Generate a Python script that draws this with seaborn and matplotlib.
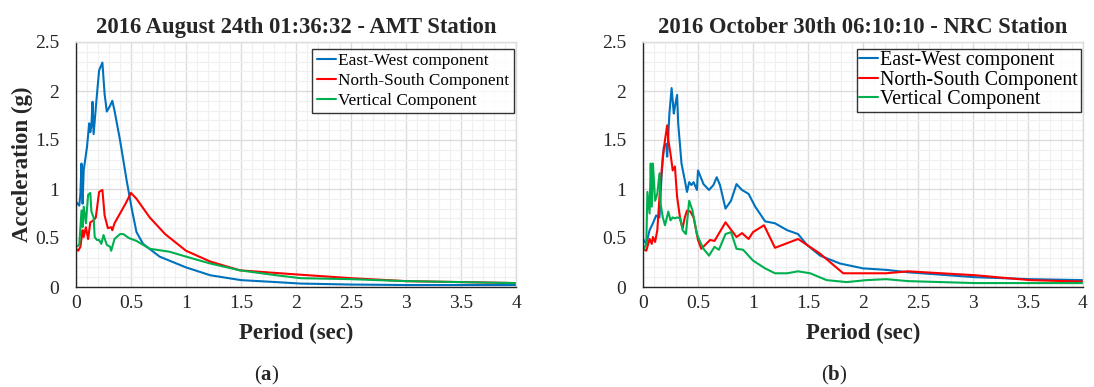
import numpy as np
import pandas as pd
import matplotlib
matplotlib.use("Agg")
import matplotlib.pyplot as plt
import seaborn as sns
from matplotlib.ticker import MultipleLocator

# ---------------- data ----------------
series_names = ["East-West component", "North-South Component", "Vertical Component"]
titles = ["2016 August 24th 01:36:32 - AMT Station", "2016 October 30th 06:10:10 - NRC Station"]
panel_labels = ["a", "b"]
x_ticks = [0, 0.5, 1, 1.5, 2, 2.5, 3, 3.5, 4]
x_tick_labels = ["0", "0.5", "1", "1.5", "2", "2.5", "3", "3.5", "4"]
y_ticks = [0, 0.5, 1, 1.5, 2, 2.5]
y_tick_labels = ["0", "0.5", "1", "1.5", "2", "2.5"]

# Panel (a) AMT
a_ew_x = [0.0, 0.03, 0.04, 0.05, 0.06, 0.07, 0.10, 0.12, 0.13, 0.14, 0.15, 0.16, 0.19, 0.21, 0.24,
          0.26, 0.28, 0.31, 0.33, 0.35, 0.40, 0.46, 0.51, 0.55, 0.61, 0.76, 1.0, 1.22, 1.5, 1.82,
          2.04, 2.5, 3.0, 3.5, 4.0]
a_ew_y = [0.87, 0.83, 0.95, 1.26, 0.85, 1.19, 1.43, 1.67, 1.58, 1.65, 1.89, 1.56, 1.96, 2.21, 2.29,
          1.97, 1.79, 1.85, 1.90, 1.80, 1.50, 1.09, 0.78, 0.56, 0.44, 0.31, 0.20, 0.12, 0.07, 0.05,
          0.035, 0.025, 0.02, 0.02, 0.02]
a_ns_x = [0.0, 0.02, 0.04, 0.06, 0.07, 0.09, 0.11, 0.13, 0.16, 0.18, 0.21, 0.24, 0.26, 0.29, 0.32,
          0.33, 0.35, 0.40, 0.45, 0.50, 0.55, 0.67, 0.81, 1.0, 1.22, 1.49, 1.98, 2.5, 3.0, 3.5, 4.0]
a_ns_y = [0.39, 0.37, 0.41, 0.58, 0.51, 0.61, 0.49, 0.66, 0.68, 0.71, 0.97, 0.99, 0.73, 0.60, 0.61,
          0.58, 0.65, 0.75, 0.85, 0.96, 0.90, 0.71, 0.54, 0.37, 0.26, 0.17, 0.13, 0.09, 0.06, 0.05, 0.04]
a_v_x = [0.0, 0.03, 0.05, 0.06, 0.07, 0.09, 0.11, 0.13, 0.14, 0.16, 0.17, 0.19, 0.21, 0.23, 0.25,
         0.28, 0.31, 0.32, 0.35, 0.40, 0.43, 0.48, 0.55, 0.67, 0.85, 1.0, 1.22, 1.49, 1.82, 2.04,
         2.5, 3.0, 3.5, 4.0]
a_v_y = [0.41, 0.43, 0.78, 0.61, 0.82, 0.65, 0.94, 0.96, 0.77, 0.71, 0.51, 0.48, 0.48, 0.44, 0.53,
         0.43, 0.41, 0.37, 0.49, 0.54, 0.54, 0.50, 0.47, 0.39, 0.36, 0.31, 0.24, 0.17, 0.12, 0.09,
         0.08, 0.06, 0.05, 0.04]

# Panel (b) NRC
b_ew_x = [0.0, 0.03, 0.06, 0.09, 0.12, 0.15, 0.17, 0.19, 0.21, 0.22, 0.24, 0.26, 0.28, 0.29, 0.31,
          0.32, 0.35, 0.38, 0.40, 0.42, 0.44, 0.46, 0.49, 0.50, 0.55, 0.60, 0.64, 0.67, 0.70, 0.75,
          0.80, 0.85, 0.90, 0.96, 1.02, 1.11, 1.20, 1.31, 1.41, 1.49, 1.61, 1.79, 2.0, 2.21, 2.41,
          3.02, 3.52, 4.0]
b_ew_y = [0.49, 0.44, 0.58, 0.65, 0.73, 0.71, 1.16, 1.43, 1.46, 1.33, 1.77, 2.03, 1.77, 1.84, 1.96,
          1.67, 1.26, 1.09, 0.97, 1.07, 1.04, 1.07, 0.99, 1.19, 1.05, 0.99, 1.04, 1.12, 1.04, 0.80,
          0.88, 1.05, 0.99, 0.95, 0.82, 0.67, 0.65, 0.58, 0.54, 0.43, 0.32, 0.24, 0.19, 0.175, 0.15,
          0.10, 0.08, 0.07]
b_ns_x = [0.0, 0.03, 0.06, 0.08, 0.09, 0.11, 0.13, 0.15, 0.18, 0.20, 0.22, 0.23, 0.25, 0.27, 0.29,
          0.31, 0.34, 0.36, 0.38, 0.40, 0.43, 0.46, 0.50, 0.53, 0.61, 0.65, 0.75, 0.85, 0.90, 0.96,
          1.0, 1.10, 1.20, 1.41, 1.61, 1.82, 2.21, 2.41, 3.02, 3.52, 4.0]
b_ns_y = [0.39, 0.37, 0.49, 0.44, 0.51, 0.46, 0.58, 0.92, 1.33, 1.50, 1.65, 1.50, 1.36, 1.19, 1.23,
          0.92, 0.68, 0.60, 0.71, 0.78, 0.77, 0.71, 0.48, 0.39, 0.48, 0.47, 0.66, 0.51, 0.55, 0.49,
          0.56, 0.63, 0.40, 0.49, 0.34, 0.14, 0.14, 0.16, 0.12, 0.07, 0.055]
b_v_x = [0.0, 0.03, 0.04, 0.06, 0.07, 0.08, 0.09, 0.11, 0.13, 0.15, 0.16, 0.18, 0.20, 0.23, 0.25,
         0.27, 0.29, 0.31, 0.34, 0.36, 0.39, 0.42, 0.45, 0.49, 0.52, 0.55, 0.60, 0.65, 0.69, 0.75,
         0.80, 0.85, 0.91, 1.0, 1.11, 1.20, 1.31, 1.41, 1.52, 1.67, 1.85, 2.03, 2.21, 2.41, 3.02,
         3.52, 4.0]
b_v_y = [0.37, 0.44, 0.97, 0.75, 1.26, 0.82, 1.26, 0.88, 0.95, 1.16, 0.85, 0.71, 0.63, 0.77, 0.68,
         0.71, 0.70, 0.71, 0.70, 0.58, 0.54, 0.88, 0.78, 0.54, 0.46, 0.39, 0.32, 0.41, 0.38, 0.54,
         0.56, 0.39, 0.38, 0.27, 0.19, 0.14, 0.14, 0.16, 0.14, 0.07, 0.05, 0.07, 0.08, 0.06, 0.04,
         0.04, 0.04]

panels = [
    [(a_ew_x, a_ew_y), (a_ns_x, a_ns_y), (a_v_x, a_v_y)],
    [(b_ew_x, b_ew_y), (b_ns_x, b_ns_y), (b_v_x, b_v_y)],
]
colors = ["#0072BD", "#FF0000", "#00B050"]

# ---------------- style ----------------
sns.set_theme(style="white")
plt.rcParams["font.family"] = ["Liberation Serif", "DejaVu Serif"]
plt.rcParams["mathtext.fontset"] = "custom"
plt.rcParams["mathtext.rm"] = "Liberation Serif"
plt.rcParams["mathtext.bf"] = "Liberation Serif:bold"

fig = plt.figure(figsize=(10.94, 3.87), dpi=100)
W, H = 1094, 387
axes_px = [(76, 42, 440, 245), (643, 42, 440, 245)]
legend_styles = [
    dict(fontsize=12.4, handlelength=1.15, labelspacing=0.22, borderpad=0.25),
    dict(fontsize=14.4, handlelength=0.95, labelspacing=0.02, borderpad=0.12),
]

for i, (left, top, w, h) in enumerate(axes_px):
    ax = fig.add_axes([left / W, 1 - (top + h) / H, w / W, h / H])
    rows = []
    for name, (xs, ys) in zip(series_names, panels[i]):
        for xv, yv in zip(xs, ys):
            rows.append({"Period": xv, "Acc": yv, "Component": name})
    df = pd.DataFrame(rows)
    sns.lineplot(data=df, x="Period", y="Acc", hue="Component", palette=colors,
                 estimator=None, sort=False, linewidth=1.5, ax=ax)
    ax.set_xlim(0, 4)
    ax.set_ylim(0, 2.5)
    ax.set_xticks(x_ticks)
    ax.set_xticklabels(x_tick_labels)
    ax.set_yticks(y_ticks)
    ax.set_yticklabels(y_tick_labels)
    ax.xaxis.set_minor_locator(MultipleLocator(0.1))
    ax.yaxis.set_minor_locator(MultipleLocator(0.1))
    ax.grid(which="major", color="#dcdcdc", linewidth=1.0)
    ax.grid(which="minor", color="#f0f0f0", linewidth=0.9)
    ax.set_axisbelow(True)
    for s in ["top", "right"]:
        ax.spines[s].set_color("#dcdcdc")
        ax.spines[s].set_linewidth(1.0)
    for s in ["left", "bottom"]:
        ax.spines[s].set_color("#262626")
        ax.spines[s].set_linewidth(1.0)
    ax.tick_params(which="major", direction="in", length=4, width=1.0, color="#262626",
                   labelsize=14, top=False, right=False)
    ax.tick_params(axis="x", which="major", pad=6)
    ax.tick_params(axis="y", which="major", pad=12)
    ax.tick_params(which="minor", length=0)
    ax.set_title(titles[i], fontsize=16.3, fontweight="bold", pad=6.5)
    ax.set_xlabel("Period (sec)", fontsize=16.5, fontweight="bold")
    ax.xaxis.set_label_coords(0.5, -(339 - 287) / h)
    ax.xaxis.label.set_va("baseline")
    if i == 0:
        ax.set_ylabel("Acceleration (g)", fontsize=16.5, fontweight="bold")
        ax.yaxis.set_label_coords((22 - left) / w, 0.5)
        ax.yaxis.label.set_va("center")
    else:
        ax.set_ylabel("")
    leg = ax.legend(loc="upper right", bbox_to_anchor=((w - 2.5) / w, 1 - 7 / h),
                    frameon=True, fancybox=False, edgecolor="black",
                    handletextpad=0.1, borderaxespad=0.0, **legend_styles[i])
    leg.get_frame().set_linewidth(1.0)
    for t in leg.get_texts():
        t.set_color("black")
    ax.text(191 / w, -(375 - 287) / h, r"($\mathbf{%s}$)" % panel_labels[i],
            transform=ax.transAxes, ha="center", va="center", fontsize=15)

fig.savefig("out.png", dpi=100)
